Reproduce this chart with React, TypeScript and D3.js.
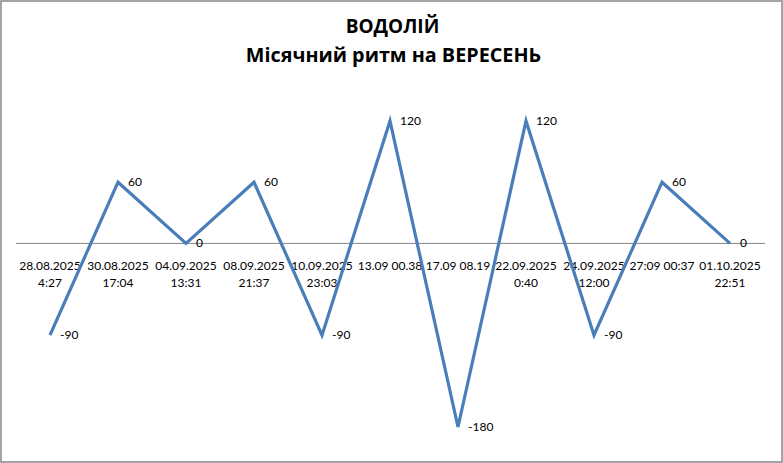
import React, { useEffect, useRef } from "react";
import * as d3 from "d3";

const titleLines = ["ВОДОЛІЙ", "Місячний ритм на ВЕРЕСЕНЬ"];
const categories = [
  "28.08.2025\n4:27",
  "30.08.2025\n17:04",
  "04.09.2025\n13:31",
  "08.09.2025\n21:37",
  "10.09.2025\n23:03",
  "13.09 00.38",
  "17.09 08.19",
  "22.09.2025\n0:40",
  "24.09.2025\n12:00",
  "27:09 00:37",
  "01.10.2025\n22:51",
];
const values = [-90, 60, 0, 60, -90, 120, -180, 120, -90, 60, 0];

const W = 783;
const H = 463;
const FONT = "Lato, 'Open Sans', sans-serif";

export default function App() {
  const ref = useRef<SVGSVGElement | null>(null);

  useEffect(() => {
    const svg = d3.select(ref.current);
    svg.selectAll("*").remove();

    svg
      .append("rect")
      .attr("x", 1)
      .attr("y", 1)
      .attr("width", W - 2)
      .attr("height", H - 2)
      .attr("fill", "#fff")
      .attr("stroke", "#868686")
      .attr("stroke-width", 1.5);

    const title = svg.append("g").attr("font-family", "'Open Sans', sans-serif").attr("font-weight", "bold").attr("fill", "#000");
    title
      .append("text")
      .attr("x", W / 2 + 1)
      .attr("y", 33)
      .attr("text-anchor", "middle")
      .attr("font-size", 19)
      .text(titleLines[0]);
    title
      .append("text")
      .attr("x", W / 2 + 2)
      .attr("y", 62)
      .attr("text-anchor", "middle")
      .attr("font-size", 19.8)
      .text(titleLines[1]);

    const x = d3.scaleBand<number>().domain(d3.range(categories.length)).range([16, 764]).padding(0);
    const y = d3.scaleLinear().domain([-180, 120]).range([427, 121]);
    const cx = (i: number) => (x(i) as number) + x.bandwidth() / 2;

    svg
      .append("line")
      .attr("x1", 16)
      .attr("x2", 765)
      .attr("y1", y(0))
      .attr("y2", y(0))
      .attr("stroke", "#868686")
      .attr("stroke-width", 1);

    const lab = svg.append("g").attr("font-family", FONT).attr("font-size", 12).attr("fill", "#000");
    categories.forEach((c, i) => {
      const lines = c.split("\n");
      const t = lab.append("text").attr("text-anchor", "middle");
      lines.forEach((l, k) => {
        t.append("tspan")
          .attr("x", cx(i))
          .attr("y", 270 + k * 17)
          .text(l);
      });
    });

    const line = d3
      .line<number>()
      .x((_, i) => cx(i))
      .y((d) => y(d));

    svg
      .append("path")
      .datum(values)
      .attr("d", line)
      .attr("fill", "none")
      .attr("stroke", "#4A7EBB")
      .attr("stroke-width", 3.2)
      .attr("stroke-linejoin", "miter");

    const dl = svg.append("g").attr("font-family", FONT).attr("font-size", 12).attr("fill", "#000");
    values.forEach((v, i) => {
      dl.append("text")
        .attr("x", cx(i) + 10)
        .attr("y", y(v) + 4)
        .text(String(v));
    });
  }, []);

  return (
    <svg
      ref={ref}
      width={W}
      height={H}
      style={{ position: "absolute", left: 0, top: 0, display: "block" }}
    />
  );
}
